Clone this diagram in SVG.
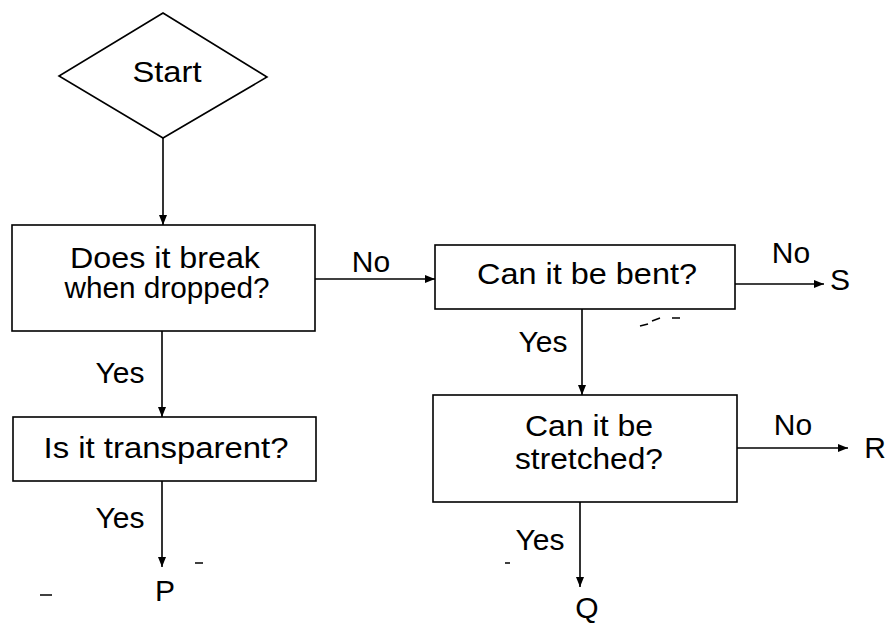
<svg xmlns="http://www.w3.org/2000/svg" width="891" height="625" viewBox="0 0 891 625">
  <defs>
    <marker id="arr" viewBox="0 0 10 8" refX="10" refY="4" markerWidth="10" markerHeight="8" markerUnits="userSpaceOnUse" orient="auto">
      <path d="M0,0 L10,4 L0,8 Z" fill="#000"/>
    </marker>
    <style>
      .shape { fill: #fff; stroke: #000; stroke-width: 1.6; }
      .conn { fill: none; stroke: #000; stroke-width: 1.6; marker-end: url(#arr); }
      .t { font-family: "Liberation Sans", Arial, sans-serif; font-size: 30px; fill: #000; text-anchor: middle; }
      .noise { stroke: #000; stroke-width: 1.5; }
    </style>
  </defs>
  <rect width="891" height="625" fill="#fff"/>

  <g id="connectors">
    <line class="conn" x1="163" y1="138" x2="163" y2="225"/>
    <line class="conn" x1="315" y1="279" x2="435" y2="279"/>
    <line class="conn" x1="735" y1="284" x2="824" y2="284"/>
    <line class="conn" x1="582" y1="309" x2="582" y2="395"/>
    <line class="conn" x1="162" y1="331" x2="162" y2="417"/>
    <line class="conn" x1="162" y1="481" x2="162" y2="567"/>
    <line class="conn" x1="737" y1="448" x2="848" y2="448"/>
    <line class="conn" x1="580" y1="502" x2="580" y2="587"/>
    <text class="t" x="371" y="272">No</text>
    <text class="t" x="791" y="263">No</text>
    <text class="t" x="793" y="435">No</text>
    <text class="t" x="543" y="352">Yes</text>
    <text class="t" x="120" y="383">Yes</text>
    <text class="t" x="120" y="528">Yes</text>
    <text class="t" x="540" y="550">Yes</text>
  </g>

  <g id="start">
    <polygon class="shape" points="163,13 267,77 163,138 59,76"/>
    <text class="t" x="167" y="82" textLength="69" lengthAdjust="spacingAndGlyphs">Start</text>
  </g>

  <g id="break">
    <rect class="shape" x="12" y="225" width="303" height="106"/>
    <text class="t" x="165" y="268" textLength="190" lengthAdjust="spacingAndGlyphs">Does it break</text>
    <text class="t" x="167" y="298" textLength="205" lengthAdjust="spacingAndGlyphs">when dropped?</text>
  </g>

  <g id="bent">
    <rect class="shape" x="435" y="245" width="300" height="64"/>
    <text class="t" x="587" y="284" textLength="220" lengthAdjust="spacingAndGlyphs">Can it be bent?</text>
  </g>

  <g id="transparent">
    <rect class="shape" x="13" y="417" width="303" height="64"/>
    <text class="t" x="166" y="458" textLength="245" lengthAdjust="spacingAndGlyphs">Is it transparent?</text>
  </g>

  <g id="stretched">
    <rect class="shape" x="433" y="395" width="304" height="107"/>
    <text class="t" x="589" y="436" textLength="128" lengthAdjust="spacingAndGlyphs">Can it be</text>
    <text class="t" x="589" y="469" textLength="148" lengthAdjust="spacingAndGlyphs">stretched?</text>
  </g>

  <g id="S"><text class="t" x="840" y="290">S</text></g>
  <g id="R"><text class="t" x="875" y="458">R</text></g>
  <g id="P"><text class="t" x="165" y="601">P</text></g>
  <g id="Q"><text class="t" x="587" y="618">Q</text></g>

  <g id="marks">
    <line class="noise" x1="40" y1="595" x2="52" y2="595"/>
    <line class="noise" x1="195" y1="563" x2="203" y2="563"/>
    <line class="noise" x1="505" y1="563" x2="510" y2="563"/>
    <line class="noise" x1="640" y1="326" x2="648" y2="324"/>
    <line class="noise" x1="652" y1="321" x2="660" y2="318"/>
    <line class="noise" x1="672" y1="318" x2="680" y2="318"/>
  </g>
</svg>
